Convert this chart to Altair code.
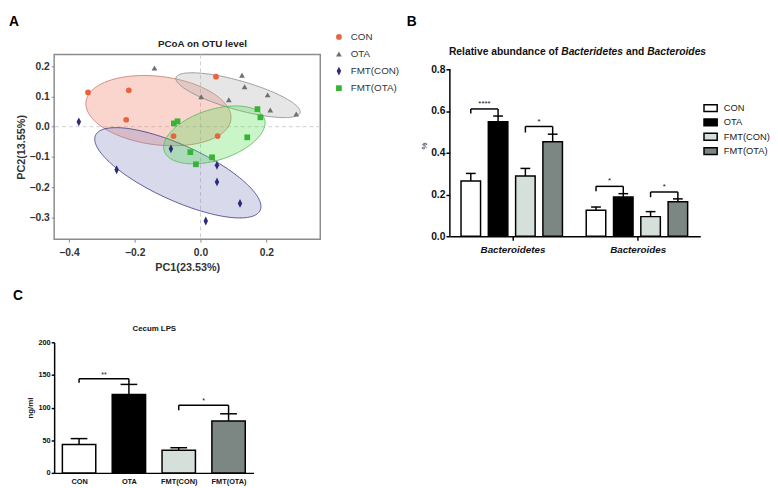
import math
import numpy as np
import pandas as pd
import altair as alt

FONT = "Liberation Sans"
groups = ["CON", "OTA", "FMT(CON)", "FMT(OTA)"]

# ---------------- Panel A : PCoA ----------------
con_pc1 = [-0.342, -0.218, -0.226, -0.082, 0.052, 0.047]
con_pc2 = [0.113, 0.120, 0.023, -0.031, -0.031, 0.165]
ota_pc1 = [-0.140, 0.002, 0.086, 0.126, 0.134, 0.204, 0.212, 0.291]
ota_pc2 = [0.194, 0.099, 0.089, 0.170, 0.132, 0.105, 0.055, 0.042]
fcon_pc1 = [-0.370, -0.255, -0.090, 0.050, 0.050, 0.120, 0.016]
fcon_pc2 = [0.016, -0.142, -0.073, -0.127, -0.182, -0.253, -0.311]
fota_pc1 = [-0.081, -0.070, -0.031, -0.014, 0.035, 0.142, 0.173, 0.182]
fota_pc2 = [0.011, 0.018, -0.084, -0.124, -0.101, -0.035, 0.058, 0.031]

# confidence ellipses: centre, semi-axes (PC1 units), tilt (degrees)
ell_pc1 = [-0.128, 0.114, -0.069, 0.042]
ell_pc2 = [0.053, 0.104, -0.152, -0.027]
ell_major = [0.222, 0.196, 0.275, 0.160]
ell_minor = [0.104, 0.044, 0.084, 0.077]
ell_angle = [-7.1, -15.8, -24.5, 17.7]

point_colors = ["#E8643F", "#6F6F6F", "#2D2A7C", "#35B535"]
ell_fill = ["#EB735C", "#ACACAC", "#8080C0", "#4BDE4B"]
ell_stroke = ["#C97B6A", "#8C8C8C", "#3F3D85", "#5DB35D"]
shapes = ["circle", "triangle-up", "M0,-1.55L0.78,0L0,1.55L-0.78,0Z", "square"]

# ---------------- Panel B : relative abundance ----------------
b_cats = ["Bacteroidetes", "Bacteroides"]
b_mean_bacteroidetes = [0.265, 0.549, 0.289, 0.453]
b_err_bacteroidetes = [0.036, 0.027, 0.036, 0.036]
b_mean_bacteroides = [0.125, 0.188, 0.094, 0.165]
b_err_bacteroides = [0.015, 0.016, 0.024, 0.014]
b_sig_cat = [0, 0, 1, 1]
b_sig_left = [0, 2, 0, 2]
b_sig_right = [1, 3, 1, 3]
b_sig_level = [0.610, 0.526, 0.239, 0.212]
b_sig_leg = [0.588, 0.497, 0.215, 0.187]
b_sig_label = ["****", "*", "*", "*"]

# ---------------- Panel C : Cecum LPS ----------------
c_mean = [43.5, 120.0, 34.5, 79.5]
c_err = [9.0, 15.5, 4.0, 11.0]
c_sig_left = [0, 2]
c_sig_right = [1, 3]
c_sig_level = [144.0, 103.5]
c_sig_leg = [138.0, 96.0]
c_sig_label = ["**", "*"]

bar_fill = ["#FFFFFF", "#000000", "#D5E0DA", "#7C8683"]


def text_layer(txt, x, y, size, weight="bold", style="normal", align="left",
               baseline="alphabetic", color="#111111"):
    return alt.Chart(pd.DataFrame({"t": [txt]})).mark_text(
        font=FONT, fontSize=size, fontWeight=weight, fontStyle=style,
        align=align, baseline=baseline, color=color
    ).encode(text="t:N", x=alt.value(x), y=alt.value(y))


# ======== Panel A ========
WA, HA = 271, 188
xdomA = [-0.445, 0.364]
ydomA = [-0.371, 0.238]
pxx = WA / (xdomA[1] - xdomA[0])
pyy = HA / (ydomA[1] - ydomA[0])

pts = []
for g, xs, ys in zip(groups, [con_pc1, ota_pc1, fcon_pc1, fota_pc1],
                     [con_pc2, ota_pc2, fcon_pc2, fota_pc2]):
    for a, b in zip(xs, ys):
        pts.append({"group": g, "x": a, "y": b})
pts = pd.DataFrame(pts)


def ellipse_df(cx, cy, a, b, ang):
    A, B = a * pxx, b * pxx
    phi = math.radians(ang)
    c, s = math.cos(phi), math.sin(phi)
    half = math.sqrt((A * c) ** 2 + (B * s) ** 2)
    p = s * s / A ** 2 + c * c / B ** 2
    rows = []
    for t in np.linspace(0, math.pi, 121):
        u = -half * math.cos(t)
        q = 2 * u * c * s * (1 / A ** 2 - 1 / B ** 2)
        r = u * u * (c * c / A ** 2 + s * s / B ** 2) - 1
        disc = max(q * q - 4 * p * r, 0.0)
        v_lo = (-q - math.sqrt(disc)) / (2 * p)
        v_hi = (-q + math.sqrt(disc)) / (2 * p)
        rows.append({"x": cx + u / pxx, "y": cy + v_hi / pyy, "y2": cy + v_lo / pyy})
    return pd.DataFrame(rows)


sxA = alt.Scale(domain=xdomA, nice=False, zero=False)
syA = alt.Scale(domain=ydomA, nice=False, zero=False)
axA = dict(labelFont=FONT, labelFontSize=10.5, labelFontWeight="bold", labelColor="#333333",
           tickColor="#888888", tickSize=3, tickWidth=1, domain=False, grid=False,
           titleFont=FONT, titleFontSize=11, titleFontWeight="bold", titleColor="#333333",
           format=".1f")


def XA(f):
    return alt.X(f, scale=sxA, title="PC1(23.53%)",
                 axis=alt.Axis(values=[-0.4, -0.2, 0.0, 0.2], labelPadding=6, titlePadding=3, **axA))


def YA(f):
    return alt.Y(f, scale=syA, title="PC2(13.55%)",
                 axis=alt.Axis(values=[-0.3, -0.2, -0.1, 0.0, 0.1, 0.2], labelPadding=2,
                               titlePadding=2, **axA))


zero_x = alt.Chart(pd.DataFrame({"x": [0.0]})).mark_rule(
    color="#cfcfcf", strokeDash=[4, 3], strokeWidth=1).encode(x=XA("x:Q"))
zero_y = alt.Chart(pd.DataFrame({"y": [0.0]})).mark_rule(
    color="#cfcfcf", strokeDash=[4, 3], strokeWidth=1).encode(y=YA("y:Q"))

ellipse_layers = []
for i in [0, 1, 2, 3]:
    ellipse_layers.append(
        alt.Chart(ellipse_df(ell_pc1[i], ell_pc2[i], ell_major[i], ell_minor[i], ell_angle[i]))
        .mark_area(fill=ell_fill[i], fillOpacity=0.3, stroke=ell_stroke[i],
                   strokeOpacity=0.85, strokeWidth=1)
        .encode(x=XA("x:Q"), y=YA("y:Q"), y2="y2:Q")
    )

legA = alt.Legend(orient="none", legendX=285, legendY=-23, title=None, labelFont=FONT,
                  labelFontSize=10, labelColor="#333333", symbolSize=34, rowPadding=7.4,
                  labelOffset=7, padding=0)
points = alt.Chart(pts).mark_point(filled=True, size=34, opacity=1).encode(
    x=XA("x:Q"), y=YA("y:Q"),
    color=alt.Color("group:N", scale=alt.Scale(domain=groups, range=point_colors), legend=legA),
    shape=alt.Shape("group:N", scale=alt.Scale(domain=groups, range=shapes), legend=legA),
)

panelA = alt.layer(
    zero_x, zero_y, *ellipse_layers, points,
    text_layer("A", -46, -40, 14, baseline="top", color="#000000"),
    text_layer("PCoA on OTU level", 151, -8, 10, align="center", color="#222222"),
).properties(width=WA, height=HA,
             view=alt.ViewBackground(stroke="#8c8c8c", strokeWidth=1.5))

# ======== Panel B ========
WB, HB = 255, 185
b_top = 0.8 * HB / 170.0
b_step, b_half, b_cap = 0.218, 0.078, 0.039
b_rows = []
for ci, (means, errs) in enumerate([(b_mean_bacteroidetes, b_err_bacteroidetes),
                                    (b_mean_bacteroides, b_err_bacteroides)]):
    for gi, g in enumerate(groups):
        xc = ci + 0.5 + (gi - 1.5) * b_step - 0.006
        b_rows.append({"bgroup": g, "xc": xc, "x1": xc - b_half, "x2": xc + b_half,
                       "c1": xc - b_cap, "c2": xc + b_cap,
                       "mean": means[gi], "upper": means[gi] + errs[gi]})
b_df = pd.DataFrame(b_rows)


def bx_of(ci, gi):
    return b_df.iloc[ci * 4 + gi]


b_seg, b_lab = [], []
for ci, gl, gr, lev, leg, lab in zip(b_sig_cat, b_sig_left, b_sig_right, b_sig_level,
                                      b_sig_leg, b_sig_label):
    L, R = bx_of(ci, gl), bx_of(ci, gr)
    b_seg.append({"sx": L.xc, "sx2": R.xc, "sy": lev, "sy2": lev})
    b_seg.append({"sx": L.xc, "sx2": L.xc, "sy": leg, "sy2": lev})
    b_seg.append({"sx": R.xc, "sx2": R.xc, "sy": R.upper, "sy2": lev})
    b_lab.append({"sx": (L.xc + R.xc) / 2, "sy": lev, "lab": lab})
b_seg = pd.DataFrame(b_seg)
b_lab = pd.DataFrame(b_lab)

sxB = alt.Scale(domain=[0, 2], nice=False, zero=False)
syB = alt.Scale(domain=[0, b_top], nice=False)
b_label_expr = f"datum.value < 1 ? '{b_cats[0]}' : '{b_cats[1]}'"
b_ticks = [0, 0.2, 0.4, 0.6, 0.8]


def XB(f):
    return alt.X(f, scale=sxB, title=None,
                 axis=alt.Axis(values=[0.5, 1.5], labelExpr=b_label_expr, labelFont=FONT,
                               labelFontSize=10, labelFontWeight="bold", labelFontStyle="italic",
                               labelColor="#111111", tickColor="black", tickWidth=1.5, tickSize=4,
                               domainColor="black", domainWidth=1.5, labelPadding=5, grid=False))


def YB(f):
    return alt.Y(f, scale=syB, title="%",
                 axis=alt.Axis(values=b_ticks, format=".1f", labelFont=FONT,
                               labelFontSize=10.5, labelFontWeight="bold", labelColor="#111111",
                               tickColor="black", tickWidth=1.5, tickSize=4, domain=False,
                               labelPadding=1, grid=False, titleFont=FONT,
                               titleFontSize=8, titleFontWeight="normal", titleColor="#111111",
                               titlePadding=2))


legB = alt.Legend(orient="none", legendX=258, legendY=47, title=None,
                  symbolType="M-1,-0.52L1,-0.52L1,0.52L-1,0.52Z", symbolSize=180,
                  symbolStrokeColor="black", symbolStrokeWidth=1.5, labelFont=FONT,
                  labelFontSize=9.5, labelColor="#222222", rowPadding=0.6, labelOffset=6,
                  padding=0)

b_axis_line = alt.Chart(pd.DataFrame({"lo": [b_ticks[0]], "hi": [b_ticks[-1]]})).mark_rule(
    color="black", strokeWidth=1.5).encode(x=alt.value(0), y=YB("lo:Q"), y2="hi:Q")
b_bars = alt.Chart(b_df).mark_rect(stroke="black", strokeWidth=1.5).encode(
    x=XB("x1:Q"), x2="x2:Q", y=YB("mean:Q"), y2=alt.datum(0),
    fill=alt.Fill("bgroup:N", scale=alt.Scale(domain=groups, range=bar_fill), legend=legB),
)
b_errs = alt.Chart(b_df).mark_rule(color="black", strokeWidth=1.5).encode(
    x=XB("xc:Q"), y=YB("mean:Q"), y2="upper:Q")
b_caps = alt.Chart(b_df).mark_rule(color="black", strokeWidth=1.5).encode(
    x=XB("c1:Q"), x2="c2:Q", y=YB("upper:Q"))
b_br = alt.Chart(b_seg).mark_rule(color="black", strokeWidth=1.5).encode(
    x=XB("sx:Q"), x2="sx2:Q", y=YB("sy:Q"), y2="sy2:Q")
b_stars = alt.Chart(b_lab).mark_text(font=FONT, fontSize=8, baseline="bottom", dy=-1,
                                     color="#111111").encode(
    x=XB("sx:Q"), y=YB("sy:Q"), text="lab:N")

fsB = 10.5
panelB = alt.layer(
    b_axis_line, b_bars, b_errs, b_caps, b_br, b_stars,
    text_layer("B", -44, -40, 14, baseline="top", color="#000000"),
    text_layer("Relative abundance of", -1, 0, fsB),
    text_layer("Bacteridetes", -1 + 10.892 * fsB, 0, fsB, style="italic"),
    text_layer("and", -1 + 17.172 * fsB, 0, fsB),
    text_layer("Bacteroides", -1 + 19.228 * fsB, 0, fsB, style="italic"),
).properties(width=WB, height=HB)

# ======== Panel C ========
WC, HC = 203, 133
c_half, c_cap = 0.335, 0.1675
c_df = pd.DataFrame({
    "cgroup": groups,
    "xc": [i + 0.5 for i in range(4)],
    "mean": c_mean,
    "upper": [m + e for m, e in zip(c_mean, c_err)],
})
c_df["x1"] = c_df["xc"] - c_half
c_df["x2"] = c_df["xc"] + c_half
c_df["c1"] = c_df["xc"] - c_cap
c_df["c2"] = c_df["xc"] + c_cap

c_seg, c_lab = [], []
for gl, gr, lev, leg, lab in zip(c_sig_left, c_sig_right, c_sig_level, c_sig_leg, c_sig_label):
    L, R = c_df.iloc[gl], c_df.iloc[gr]
    c_seg.append({"sx": L.xc, "sx2": R.xc, "sy": lev, "sy2": lev})
    c_seg.append({"sx": L.xc, "sx2": L.xc, "sy": leg, "sy2": lev})
    c_seg.append({"sx": R.xc, "sx2": R.xc, "sy": R.upper, "sy2": lev})
    c_lab.append({"sx": (L.xc + R.xc) / 2, "sy": lev, "lab": lab})
c_seg = pd.DataFrame(c_seg)
c_lab = pd.DataFrame(c_lab)

sxC = alt.Scale(domain=[0, 4], nice=False, zero=False)
syC = alt.Scale(domain=[0, 200], nice=False)
c_label_expr = " : ".join(
    [f"datum.value < {i + 1} ? '{g}'" for i, g in enumerate(groups[:-1])] + [f"'{groups[-1]}'"])


def XC(f):
    return alt.X(f, scale=sxC, title=None,
                 axis=alt.Axis(values=[0.5, 1.5, 2.5, 3.5], labelExpr=c_label_expr, labelFont=FONT,
                               labelFontSize=7.5, labelFontWeight="bold", labelColor="#111111",
                               ticks=False, domainColor="black", domainWidth=1.5, labelPadding=5,
                               grid=False))


def YC(f):
    return alt.Y(f, scale=syC, title="ng/ml",
                 axis=alt.Axis(values=[0, 50, 100, 150, 200], labelFont=FONT, labelFontSize=7.5,
                               labelFontWeight="bold", labelColor="#111111", tickColor="black",
                               tickWidth=1.5, tickSize=3, domainColor="black", domainWidth=1.5,
                               labelPadding=1, grid=False, titleFont=FONT, titleFontSize=8,
                               titleFontWeight="bold", titleColor="#111111", titlePadding=4))


c_bars = alt.Chart(c_df).mark_rect(stroke="black", strokeWidth=1.5).encode(
    x=XC("x1:Q"), x2="x2:Q", y=YC("mean:Q"), y2=alt.datum(0),
    fill=alt.Fill("cgroup:N", scale=alt.Scale(domain=groups, range=bar_fill), legend=None),
)
c_errs = alt.Chart(c_df).mark_rule(color="black", strokeWidth=1.5).encode(
    x=XC("xc:Q"), y=YC("mean:Q"), y2="upper:Q")
c_caps = alt.Chart(c_df).mark_rule(color="black", strokeWidth=1.5).encode(
    x=XC("c1:Q"), x2="c2:Q", y=YC("upper:Q"))
c_br = alt.Chart(c_seg).mark_rule(color="black", strokeWidth=1.5).encode(
    x=XC("sx:Q"), x2="sx2:Q", y=YC("sy:Q"), y2="sy2:Q")
c_stars = alt.Chart(c_lab).mark_text(font=FONT, fontSize=7, baseline="bottom", dy=-1,
                                     color="#111111").encode(
    x=XC("sx:Q"), y=YC("sy:Q"), text="lab:N")

panelC = alt.layer(
    c_bars, c_errs, c_caps, c_br, c_stars,
    text_layer("C", -42, -54, 14, baseline="top", color="#000000"),
    text_layer("Cecum LPS", 102, -12, 8, align="center"),
).properties(width=WC, height=HC)

ind = dict(color="independent", fill="independent", shape="independent")
row1 = alt.hconcat(panelA, panelB, spacing=6).resolve_scale(**ind)
chart = alt.vconcat(row1, panelC, spacing=16).resolve_scale(**ind).properties(
    padding={"left": 0, "top": 2, "right": 0, "bottom": 0}
).configure(font=FONT).configure_view(stroke=None)

chart.save("out.html", embed_options={"renderer": "svg", "actions": False})
